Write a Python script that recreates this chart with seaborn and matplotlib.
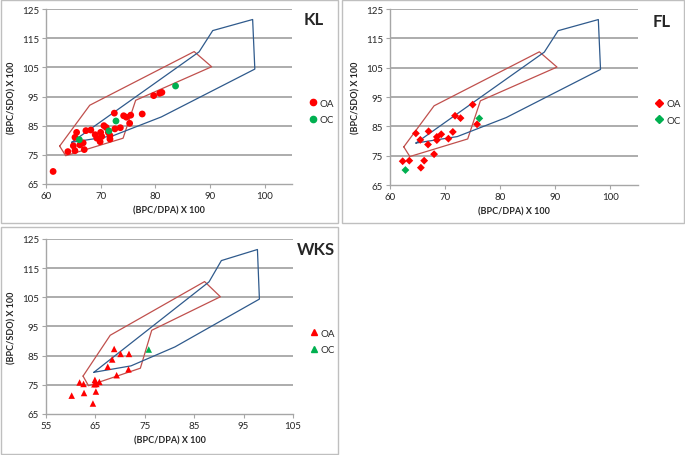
import pandas as pd
import matplotlib
matplotlib.use('Agg')
import matplotlib.pyplot as plt
from matplotlib.patches import Rectangle
from matplotlib.lines import Line2D
import seaborn as sns

# ── data ─────────────────────────────────────────────────────────────────────
kl_oa_x = [61.3, 64.0, 65.3, 65.6, 65.0, 65.3, 66.2, 66.8, 67.0, 67.3, 68.2, 69.0,
           69.3, 69.9, 70.0, 70.2, 70.6, 71.0, 71.4, 71.7, 71.7, 72.5, 72.6, 73.6,
           74.2, 74.7, 75.5, 75.3, 77.6, 79.7, 80.8, 81.2]
kl_oa_y = [69.3, 76.1, 81.0, 82.7, 78.1, 76.4, 78.4, 79.1, 76.8, 83.3, 83.5, 81.9,
           80.7, 79.5, 82.7, 81.3, 85.0, 84.4, 82.7, 80.4, 81.6, 89.3, 83.9, 84.3,
           88.4, 87.9, 88.6, 85.8, 89.0, 95.3, 96.1, 96.4]
kl_oc_x = [66.1, 72.8, 71.5, 83.7]
kl_oc_y = [80.2, 86.6, 83.2, 98.6]

fl_oa_x = [62.3, 63.5, 64.7, 65.5, 65.6, 66.2, 67.0, 66.9, 68.0, 68.5, 68.5, 69.3,
           70.6, 71.4, 71.8, 72.8, 75.0, 75.8]
fl_oa_y = [73.1, 73.3, 82.6, 80.4, 70.9, 73.3, 83.3, 78.8, 75.5, 81.4, 80.3, 82.3,
           80.8, 83.1, 88.6, 87.8, 92.4, 85.7]
fl_oc_x = [62.8, 76.2]
fl_oc_y = [70.1, 87.7]

wks_oa_x = [60.2, 61.8, 62.6, 62.7, 64.5, 64.9, 64.8, 65.1, 65.2, 65.8, 67.5, 68.4,
            68.8, 69.3, 70.1, 71.8, 71.7]
wks_oa_y = [71.3, 75.8, 75.3, 72.2, 68.6, 76.7, 75.2, 72.7, 75.3, 76.0, 81.2, 83.7,
            87.3, 78.3, 85.6, 85.6, 80.3]
wks_oc_x = [75.8]
wks_oc_y = [87.1]

# reference envelopes
red_x = [62.5, 63.6, 74.1, 76.4, 90.3, 87.1, 68.0, 62.5]
red_y = [78.0, 74.7, 80.7, 93.7, 105.2, 110.4, 92.0, 78.0]
blue_x = [64.7, 88.0, 90.5, 97.8, 98.2, 81.1, 72.2, 64.7]
blue_y = [79.3, 110.3, 117.6, 121.4, 104.4, 88.0, 81.5, 79.3]

groups = ["OA", "OC"]
y_ticks = [65, 75, 85, 95, 105, 115, 125]

sns.set_style("white")
plt.rcParams['font.family'] = ['Lato', 'DejaVu Sans']

PAL = {"OA": "#ff0000", "OC": "#00b050"}
GRID = "#a6a6a6"


def make_df(oa_x, oa_y, oc_x, oc_y):
    return pd.DataFrame({
        "x": oa_x + oc_x,
        "y": oa_y + oc_y,
        "grp": ["OA"] * len(oa_x) + ["OC"] * len(oc_x),
    })


def panel(fig, rect, df, marker, msize, xlim, xticks, name, name_pos, leg_x):
    ax = fig.add_axes(rect)
    for yt in y_ticks[1:]:
        ax.axhline(yt, color=GRID, lw=1.3, zorder=0)
    ax.plot(red_x, red_y, color="#c0504d", lw=0.9, zorder=1)
    ax.plot(blue_x, blue_y, color="#2f5a8c", lw=0.9, zorder=1)
    sns.scatterplot(data=df, x="x", y="y", hue="grp", hue_order=groups,
                    palette=PAL, marker=marker, s=msize, linewidth=0,
                    legend=False, ax=ax, zorder=3)
    ax.set_xlim(*xlim)
    ax.set_ylim(65, 125)
    ax.set_xticks(xticks)
    ax.set_yticks(y_ticks)
    for s in ["top", "right"]:
        ax.spines[s].set_visible(False)
    for s in ["left", "bottom"]:
        ax.spines[s].set_color(GRID)
        ax.spines[s].set_linewidth(1.0)
    ax.tick_params(axis="both", labelsize=7, length=3, color=GRID,
                   direction="out", pad=2, left=True, bottom=True)
    ax.set_xlabel("(BPC/DPA) X 100", fontsize=6.5, fontweight="bold", labelpad=4)
    ax.set_ylabel("(BPC/SDO) X 100", fontsize=6.5, fontweight="bold", labelpad=4)
    fig.text(name_pos[0] / 685, 1 - name_pos[1] / 456, name, fontsize=12,
             fontweight="bold", ha="center", va="center")
    handles = [Line2D([], [], ls="", marker=marker, color=PAL[g], markersize=4.5)
               for g in groups]
    ax.legend(handles, groups, loc="center left", bbox_to_anchor=(leg_x, 0.415),
              frameon=False, fontsize=7, handlelength=0.8, handletextpad=0.3,
              labelspacing=0.75, borderaxespad=0, borderpad=0)
    return ax


fig = plt.figure(figsize=(6.85, 4.56), dpi=100)

# panel frames
for x0, y0, x1, y1 in [(1, 1, 338, 224), (342, 1, 684, 224), (1, 228, 338, 455)]:
    fig.add_artist(Rectangle((x0 / 685, 1 - y1 / 456), (x1 - x0) / 685,
                             (y1 - y0) / 456, transform=fig.transFigure,
                             fill=False, edgecolor="#bfbfbf", lw=1.0))

panel(fig, [46 / 685, 1 - 185 / 456, 246 / 685, 175 / 456],
      make_df(kl_oa_x, kl_oa_y, kl_oc_x, kl_oc_y), "o", 24,
      (60, 105), [60, 70, 80, 90, 100], "KL", (314, 20), 1.07)
panel(fig, [390 / 685, 1 - 186 / 456, 248 / 685, 176 / 456],
      make_df(fl_oa_x, fl_oa_y, fl_oc_x, fl_oc_y), "D", 16,
      (60, 105), [60, 70, 80, 90, 100], "FL", (662, 22), 1.07)
panel(fig, [46 / 685, 1 - 415 / 456, 247 / 685, 175 / 456],
      make_df(wks_oa_x, wks_oa_y, wks_oc_x, wks_oc_y), "^", 22,
      (55, 105), [55, 65, 75, 85, 95, 105], "WKS", (316, 250), 1.07)

fig.savefig("out.png", dpi=100)
